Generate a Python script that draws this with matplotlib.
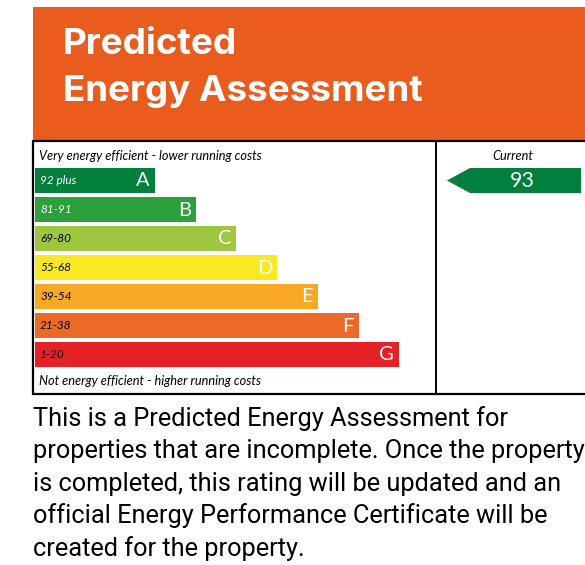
import matplotlib
matplotlib.use("Agg")
import matplotlib.pyplot as plt
from matplotlib.patches import Rectangle, Polygon

# ── data ────────────────────────────────────────────────────────────────
bands = ["A", "B", "C", "D", "E", "F", "G"]
band_ranges = ["92 plus", "81-91", "69-80", "55-68", "39-54", "21-38", "1-20"]
band_colors = ["#007F3D", "#2CA03B", "#9FC63F", "#F9E925", "#F8A924", "#EC6A27", "#E42127"]
range_text_colors = ["white", "white", "black", "black", "black", "black", "black"]
current_rating = 93
current_band = "A"

title_lines = ["Predicted", "Energy Assessment"]
top_note = "Very energy efficient - lower running costs"
bottom_note = "Not energy efficient - higher running costs"
paragraph = [
    "This is a Predicted Energy Assessment for",
    "properties that are incomplete. Once the property",
    "is completed, this rating will be updated and an",
    "official Energy Performance Certificate will be",
    "created for the property.",
]

# ── layout (pixel coordinates) ──────────────────────────────────────────
W, H = 585, 565
fig = plt.figure(figsize=(W / 100, H / 100), dpi=100)
ax = fig.add_axes([0, 0, 1, 1])
ax.set_xlim(0, W)
ax.set_ylim(H, 0)
ax.axis("off")

# header
ax.add_patch(Rectangle((33, 7), 560, 133, facecolor="#E95C1E", edgecolor="none"))
for i, line in enumerate(title_lines):
    ax.text(63, 44 + i * 48, line, color="white", fontsize=26.5, fontweight="bold",
            family="Inter", va="center", ha="left")

# chart box
box_left, box_top, box_bottom, divider = 33, 141, 394, 436
ax.add_patch(Rectangle((box_left, box_top), 600, box_bottom - box_top,
                       facecolor="white", edgecolor="black", linewidth=1.6))
ax.plot([divider, divider], [box_top, box_bottom], color="black", linewidth=1.4)

ax.text(39, 156, top_note, fontsize=9.2, style="italic", family="Lato", va="center")
ax.text(39, 381, bottom_note, fontsize=9.2, style="italic", family="Lato", va="center")

bar_left, bar_top, bar_h, pitch = 35, 168, 25, 29
for i, (b, r, c, tc) in enumerate(zip(bands, band_ranges, band_colors, range_text_colors)):
    y = bar_top + i * pitch
    w = 120 + i * 40.7
    ax.add_patch(Rectangle((bar_left, y), w, bar_h, facecolor=c, edgecolor="none"))
    ax.text(bar_left + 5, y + bar_h / 2, r, color=tc, fontsize=8.5, style="italic",
            family="Lato", va="center", ha="left")
    ax.text(bar_left + w - 5, y + bar_h / 2 + 0.5, b, color="white", fontsize=14.5,
            family="Lato", va="center", ha="right")

# current rating arrow
ax.text(513, 156, "Current", fontsize=9.2, style="italic", family="Lato",
        va="center", ha="center")
ci = bands.index(current_band)
cy = bar_top + ci * pitch
tip, body, right = 447, 470, 581
ax.add_patch(Polygon([(tip, cy + bar_h / 2), (body, cy), (right, cy),
                      (right, cy + bar_h), (body, cy + bar_h)],
                     closed=True, facecolor=band_colors[ci], edgecolor="none"))
ax.text(522, cy + bar_h / 2 + 0.5, str(current_rating), color="white", fontsize=15.5,
        family="Lato", va="center", ha="center")

# explanatory paragraph
for i, line in enumerate(paragraph):
    ax.text(33, 419 + i * 32.3, line, fontsize=18.3, family="Roboto",
            va="center", ha="left", color="black")

fig.savefig("out.png", dpi=100)
